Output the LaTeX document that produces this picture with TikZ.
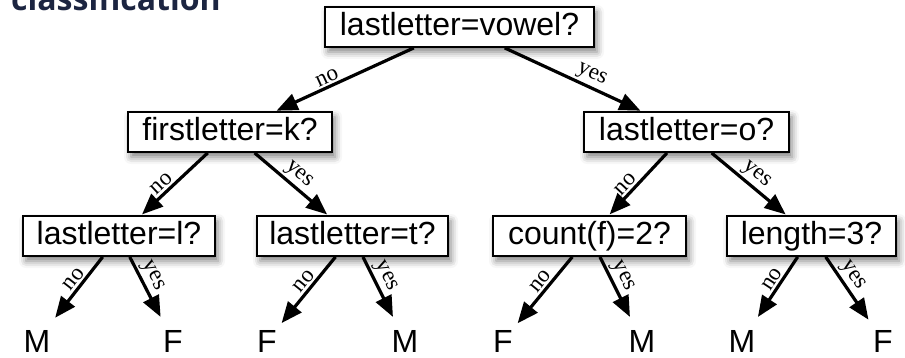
\documentclass[tikz,border=0pt]{standalone}
\usepackage{fontspec}
\setmainfont{Liberation Sans}
\newfontfamily\labelfont{Liberation Serif}
\newfontfamily\titlefont{Open Sans}
\usetikzlibrary{arrows.meta,shadows.blur}
\definecolor{titlecol}{HTML}{1C2541}
\begin{document}
\begin{tikzpicture}[x=1pt,y=-1pt,
  decision/.style={draw=black, line width=1.8pt, fill=white,
    font=\fontsize{32}{36}\selectfont, minimum height=40pt, inner sep=0pt,
    text height=23pt, text depth=6pt,
    blur shadow={shadow xshift=3pt, shadow yshift=-5pt, shadow blur radius=7pt, shadow opacity=50}},
  leaf/.style={font=\fontsize{32}{36}\selectfont, inner xsep=4pt, inner ysep=12pt},
  branch/.style={line width=3.2pt, -{Triangle[length=21pt,width=17pt]}, shorten >=1pt},
  lab/.style={font=\labelfont\fontsize{23}{25}\selectfont, sloped, above, inner sep=2pt}]
\useasboundingbox (0,0) rectangle (905,358);
\node[anchor=base west, font=\titlefont\bfseries\fontsize{32}{36}\selectfont, text=titlecol, inner sep=0pt] (title) at (11,11) {classification};

\node[decision, minimum width=269pt] (root) at (459.5,27) {lastletter=vowel?};
\node[decision, minimum width=204pt] (fl) at (230,132) {firstletter=k?};
\node[decision, minimum width=205pt] (lo) at (686.5,132) {lastletter=o?};
\node[decision, minimum width=192pt] (ll) at (119,236) {lastletter=l?};
\node[decision, minimum width=191pt] (lt) at (352.5,236) {lastletter=t?};
\node[decision, minimum width=193pt] (cf) at (589.5,236) {count(f)=2?};
\node[decision, minimum width=169pt] (len) at (811.5,236) {length=3?};

\node[leaf] (m1) at (37,341) {M};
\node[leaf] (f1) at (173,341) {F};
\node[leaf] (f2) at (267,341) {F};
\node[leaf] (m2) at (405,341) {M};
\node[leaf] (f3) at (503,341) {F};
\node[leaf] (m3) at (642,341) {M};
\node[leaf] (m4) at (742,341) {M};
\node[leaf] (f4) at (883,341) {F};

\draw[branch] (root) -- node[lab, pos=0.6] {no} (fl);
\draw[branch] (root) -- node[lab, pos=0.6] {yes} (lo);
\draw[branch] (fl) -- node[lab, pos=0.6] {no} (ll);
\draw[branch] (fl) -- node[lab, pos=0.5] {yes} (lt);
\draw[branch] (lo) -- node[lab, pos=0.6] {no} (cf);
\draw[branch] (lo) -- node[lab, pos=0.5] {yes} (len);
\draw[branch] (ll) -- node[lab, pos=0.45] {no} (m1);
\draw[branch] (ll) -- node[lab, pos=0.4] {yes} (f1);
\draw[branch] (lt) -- node[lab, pos=0.45] {no} (f2);
\draw[branch] (lt) -- node[lab, pos=0.4] {yes} (m2);
\draw[branch] (cf) -- node[lab, pos=0.45] {no} (f3);
\draw[branch] (cf) -- node[lab, pos=0.4] {yes} (m3);
\draw[branch] (len) -- node[lab, pos=0.45] {no} (m4);
\draw[branch] (len) -- node[lab, pos=0.4] {yes} (f4);
\end{tikzpicture}
\end{document}
